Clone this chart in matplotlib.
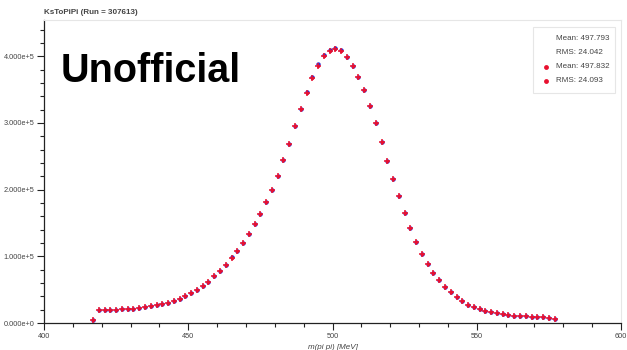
import matplotlib
matplotlib.use("Agg")
import matplotlib.pyplot as plt
from matplotlib.lines import Line2D
from matplotlib.patches import Rectangle
from matplotlib.ticker import MultipleLocator, FuncFormatter
import numpy as np

# bin centres, 2 MeV bins
mass = np.arange(417, 579, 2)

# second run (red)
counts_red = [
    4500, 19000, 19000, 19500, 19500, 20500, 21000, 21500, 22500, 23500,
    25000, 26500, 28500, 30500, 33000, 36000, 40000, 44500, 49500, 55500,
    62000, 70000, 78000, 87000, 98000, 108500, 120500, 133500, 148500, 163500,
    181000, 200000, 221000, 244000, 269000, 295000, 321000, 345000, 367500, 386000,
    400000, 408000, 410500, 408500, 399000, 386000, 369000, 349000, 325500, 299500,
    272000, 243500, 216500, 190000, 165000, 142000, 122000, 103500, 88500, 74500,
    64500, 54500, 46000, 39500, 32500, 27500, 23500, 20500, 18000, 16000,
    14500, 13000, 12000, 11000, 10500, 10000, 9500, 9000, 8500, 8000,
    6000,
]

# reference run (blue), almost identical, slightly higher near the peak
counts_blue = [
    4500, 19000, 19000, 19500, 19500, 20500, 21000, 21500, 22500, 23500,
    25000, 26500, 28500, 30500, 33000, 36000, 40000, 44500, 49500, 55500,
    62000, 70000, 78000, 87000, 99000, 108500, 120500, 133500, 149000, 163500,
    181000, 200000, 221000, 244000, 269000, 295500, 321500, 346500, 369000, 388000,
    401500, 409500, 412000, 410000, 399500, 386000, 369000, 349000, 325500, 299500,
    272000, 243500, 216500, 190000, 165000, 142000, 122000, 103500, 88500, 74500,
    64500, 54500, 46000, 39500, 32500, 27500, 23500, 20500, 18000, 16000,
    14500, 13000, 12000, 11000, 10500, 10000, 9500, 9000, 8500, 8000,
    6000,
]

legend_labels = ["Mean: 497.793", "RMS: 24.042", "Mean: 497.832", "RMS: 24.093"]

TEXT = "#444444"
FONT = "Liberation Sans"

plt.rcParams["font.family"] = [FONT, "DejaVu Sans"]

W, H = 627, 350
fig = plt.figure(figsize=(W / 100, H / 100), dpi=100)
fig.patch.set_facecolor("white")
ax = fig.add_axes([44 / W, 1 - 323 / H, (621 - 44) / W, (323 - 20) / H])

ax.plot(mass, counts_blue, "o", color="#3030d0", markersize=3.2, zorder=3,
        markeredgewidth=0)
ax.plot(mass, counts_red, "o", color="#e8102f", markersize=2.4, zorder=4,
        markeredgewidth=0)
ax.plot(mass, counts_red, "+", color="#e8102f", markersize=4.5,
        markeredgewidth=1.1, zorder=4)

ax.set_xlim(400, 600)
ax.set_ylim(0, 4.543e5)
ax.xaxis.set_major_locator(MultipleLocator(50))
ax.xaxis.set_minor_locator(MultipleLocator(10))
ax.yaxis.set_major_locator(MultipleLocator(1e5))
ax.yaxis.set_minor_locator(MultipleLocator(2e4))
ax.yaxis.set_major_formatter(FuncFormatter(
    lambda v, p: "%.3fe+%d" % (v / 10 ** int(np.log10(v)), int(np.log10(v)))
    if v > 0 else "0.000e+0"))

for side in ["top", "right"]:
    ax.spines[side].set_color("#e6e6e6")
    ax.spines[side].set_linewidth(0.8)
for side in ["left", "bottom"]:
    ax.spines[side].set_color("#222222")
    ax.spines[side].set_linewidth(0.9)
ax.tick_params(which="major", direction="out", length=5, width=0.8,
               color="#222222", labelsize=5.3, labelcolor=TEXT, pad=2)
ax.tick_params(which="minor", direction="out", length=3, width=0.8,
               color="#222222")

ax.set_xlabel("m(pi pi) [MeV]", fontsize=5.8, color=TEXT, style="italic",
              labelpad=3)

fig.text(44 / W, 1 - 12 / H, "KsToPiPi (Run = 307613)", fontsize=5.8,
         fontweight="bold", color=TEXT, va="center", ha="left")

fig.text(61 / W, 1 - 71 / H, "Unofficial", fontsize=28.5, fontweight="bold",
         color="black", va="center", ha="left")

# legend box
fig.add_artist(Rectangle((533 / W, 1 - 93 / H), (615 - 533) / W, (93 - 27) / H,
                         transform=fig.transFigure, facecolor="white",
                         edgecolor="#e6e6e6", linewidth=0.8, zorder=5))
rows_y = [38, 52, 67, 81]
for i, (lab, yy) in enumerate(zip(legend_labels, rows_y)):
    fig.text(556 / W, 1 - yy / H, lab, fontsize=5.8, color=TEXT,
             va="center", ha="left", zorder=6)
    if i >= 2:
        fig.add_artist(Line2D([546 / W], [1 - yy / H], marker="o",
                              color="#e8102f", markersize=3.5,
                              markeredgewidth=0,
                              transform=fig.transFigure, zorder=6))

fig.savefig("out.png", dpi=100)
